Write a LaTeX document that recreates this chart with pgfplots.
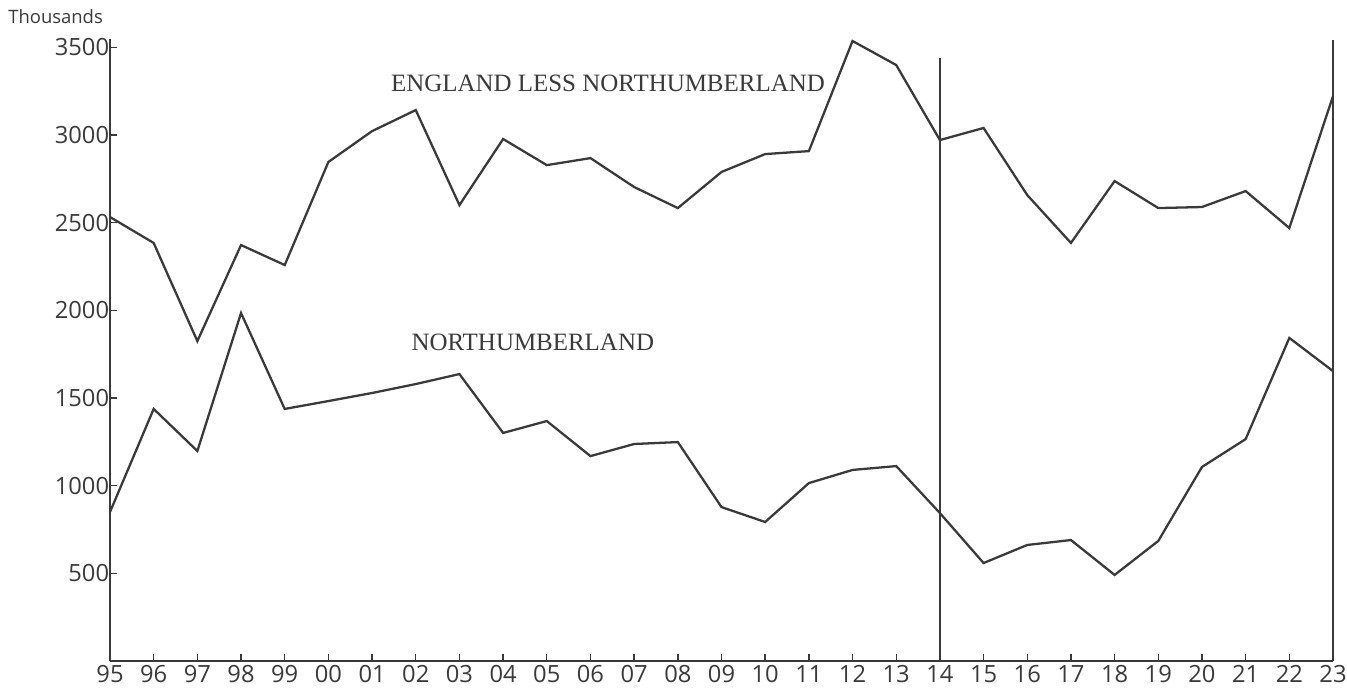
\documentclass[border=0pt]{standalone}
\usepackage{pgfplots}
\pgfplotsset{compat=1.18}
\usepackage{fontspec}
\setmainfont{Liberation Serif}
\newfontfamily\numfont{Open Sans}
\definecolor{ink}{HTML}{3A3A3A}
\pgfplotstableread{
x eng nor
0 2533 850
1 2385 1438
2 1825 1198
3 2373 1985
4 2259 1438
5 2847 1483
6 3023 1529
7 3143 1580
8 2601 1637
9 2978 1301
10 2829 1369
11 2869 1169
12 2704 1238
13 2584 1249
14 2790 878
15 2892 793
16 2909 1015
17 3537 1090
18 3400 1112
19 2972 844
20 3041 559
21 2658 662
22 2385 690
23 2738 491
24 2584 685
25 2590 1107
26 2681 1266
27 2470 1843
28 3223 1654
}\data
\begin{document}
\begin{tikzpicture}
\useasboundingbox (-2.2cm,-0.52cm) rectangle (24.74cm,13.22cm);
\begin{axis}[
  at={(0,0)}, anchor=south west,
  scale only axis, width=24.46cm, height=12.445cm,
  xmin=0, xmax=28, ymin=0, ymax=3550,
  axis x line=bottom, axis y line=left,
  axis line style={ink, line width=1.4pt, -},
  xtick={0,...,28},
  xticklabels={95,96,97,98,99,00,01,02,03,04,05,06,07,08,09,10,11,12,13,14,15,16,17,18,19,20,21,22,23},
  ytick={500,1000,1500,2000,2500,3000,3500},
  tick align=inside, major tick length=4pt,
  tick style={ink, line width=0.8pt},
  ticklabel style={font=\numfont\fontsize{13.5}{16}\selectfont, text=ink},
  /pgf/number format/assume math mode=true,
  /pgf/number format/1000 sep={},
  xticklabel style={yshift=1pt},
  yticklabel style={xshift=3pt},
  clip=false,
]
\addplot[ink, line width=1.3pt] table[x=x, y=eng] {\data};
\addplot[ink, line width=1.3pt] table[x=x, y=nor] {\data};
\addplot[ink, line width=1.3pt] coordinates {(19,0) (19,3440)};
\addplot[ink, line width=1.6pt] coordinates {(28,0) (28,3545)};
\node[font=\fontsize{14.2}{16}\selectfont, text=ink] at (axis cs:11.4,3297) {ENGLAND LESS NORTHUMBERLAND};
\node[font=\fontsize{14.2}{16}\selectfont, text=ink] at (axis cs:9.68,1820) {NORTHUMBERLAND};
\end{axis}
\node[font=\numfont\fontsize{10.5}{12}\selectfont, text=ink, anchor=west, inner sep=0pt] at (-2.04cm,12.88cm) {Thousands};
\end{tikzpicture}
\end{document}
